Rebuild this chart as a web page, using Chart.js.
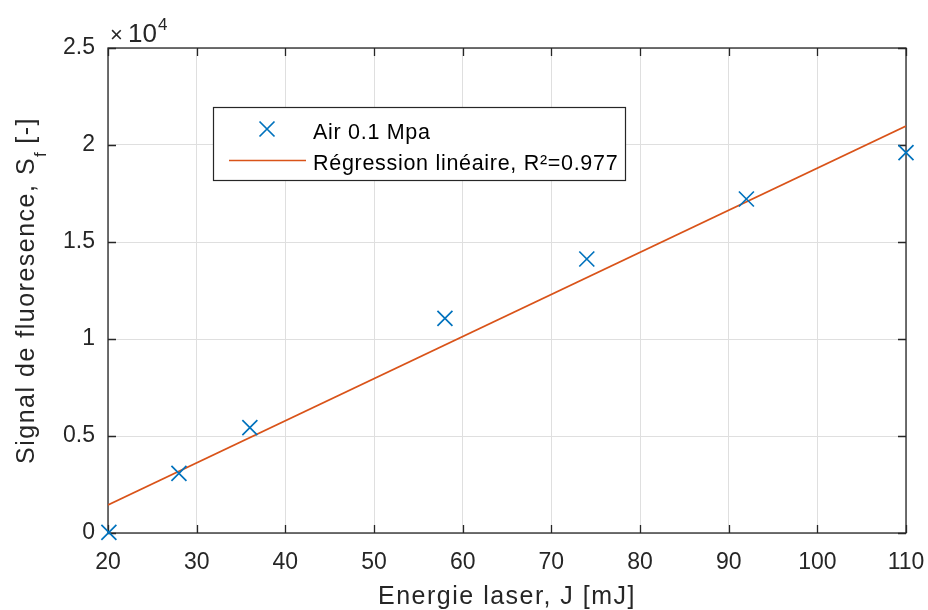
<!DOCTYPE html>
<html>
<head>
<meta charset="utf-8">
<script src="https://cdn.jsdelivr.net/npm/chart.js@4.4.1/dist/chart.umd.min.js"></script>
<style>
  html, body { margin: 0; padding: 0; background: #ffffff; }
  #wrap { width: 928px; height: 610px; position: relative; }
</style>
</head>
<body>
<div id="wrap"><canvas id="c" width="928" height="610"></canvas></div>
<script>
// ---- data ----
const energyX = [20.1, 28.0, 36.0, 58.0, 74.0, 92.0, 110.0];
const signalY = [30, 3077, 5428, 11067, 14124, 17216, 19603];
const regX = [20, 110];
const regY = [1443, 20979];
const xTicks = [20, 30, 40, 50, 60, 70, 80, 90, 100, 110];
const yTicks = [0, 5000, 10000, 15000, 20000, 25000];
const seriesNames = ['Air 0.1 Mpa', 'Régression linéaire, R²=0.977'];
const xTitle = 'Energie laser, J [mJ]';
const yTitleMain = 'Signal de fluoresence, S';
const yTitleSub = 'f';
const yTitleEnd = ' [-]';

const FONT = '"Liberation Sans", Arial, Helvetica, sans-serif';
const AXIS = '#262626';
const BLUE = '#0072BD';
const ORANGE = '#D95319';

const boxPlugin = {
  id: 'matlabBox',
  beforeDatasetsDraw(chart) {
    const {ctx, chartArea: a, scales} = chart;
    ctx.save();
    ctx.strokeStyle = AXIS;
    ctx.lineWidth = 1.3;
    ctx.strokeRect(a.left, a.top, a.right - a.left, a.bottom - a.top);
    const tl = 8;
    ctx.beginPath();
    xTicks.forEach(v => {
      const px = Math.round(scales.x.getPixelForValue(v)) + 0.5;
      ctx.moveTo(px, a.bottom); ctx.lineTo(px, a.bottom - tl);
      ctx.moveTo(px, a.top); ctx.lineTo(px, a.top + tl);
    });
    yTicks.forEach(v => {
      const py = Math.round(scales.y.getPixelForValue(v)) + 0.5;
      ctx.moveTo(a.left, py); ctx.lineTo(a.left + tl, py);
      ctx.moveTo(a.right, py); ctx.lineTo(a.right - tl, py);
    });
    ctx.stroke();
    ctx.restore();
  },
  afterDraw(chart) {
    const {ctx, chartArea: a} = chart;
    ctx.save();
    ctx.fillStyle = AXIS;
    ctx.textBaseline = 'alphabetic';
    // exponent label
    ctx.font = '22px ' + FONT;
    ctx.textAlign = 'left';
    ctx.fillText('\u00D7', a.left + 2, 42);
    ctx.font = '26px ' + FONT;
    ctx.fillText('10', a.left + 20, 42);
    ctx.font = '17px ' + FONT;
    ctx.fillText('4', a.left + 50, 30);

    // x title
    ctx.font = '25px ' + FONT;
    ctx.letterSpacing = '1.5px';
    ctx.textAlign = 'center';
    ctx.fillText(xTitle, (a.left + a.right) / 2, 604);

    // y title (rotated, with subscript)
    ctx.save();
    ctx.translate(33.5, (a.top + a.bottom) / 2);
    ctx.rotate(-Math.PI / 2);
    ctx.textAlign = 'left';
    ctx.font = '25px ' + FONT;
    ctx.letterSpacing = '1.5px';
    const w1 = ctx.measureText(yTitleMain).width;
    const w3 = ctx.measureText(yTitleEnd).width;
    ctx.font = '17px ' + FONT;
    ctx.letterSpacing = '0px';
    const w2 = ctx.measureText(yTitleSub).width;
    const total = w1 + w2 + w3;
    let x0 = -total / 2;
    ctx.font = '25px ' + FONT;
    ctx.letterSpacing = '1.5px';
    ctx.fillText(yTitleMain, x0, 0);
    ctx.font = '17px ' + FONT;
    ctx.letterSpacing = '0px';
    ctx.fillText(yTitleSub, x0 + w1, 12);
    ctx.font = '25px ' + FONT;
    ctx.letterSpacing = '1.5px';
    ctx.fillText(yTitleEnd, x0 + w1 + w2, 0);
    ctx.restore();

    // legend box
    const lx = 213.5, ly = 107.5, lw = 412, lh = 73;
    ctx.fillStyle = '#ffffff';
    ctx.fillRect(lx, ly, lw, lh);
    ctx.strokeStyle = AXIS;
    ctx.lineWidth = 1.2;
    ctx.strokeRect(lx, ly, lw, lh);
    // marker
    ctx.strokeStyle = BLUE;
    ctx.lineWidth = 1.7;
    const mx = 267, my = 129, r = 7.5;
    ctx.beginPath();
    ctx.moveTo(mx - r, my - r); ctx.lineTo(mx + r, my + r);
    ctx.moveTo(mx - r, my + r); ctx.lineTo(mx + r, my - r);
    ctx.stroke();
    // line
    ctx.strokeStyle = ORANGE;
    ctx.lineWidth = 1.6;
    ctx.beginPath();
    ctx.moveTo(229, 160.5); ctx.lineTo(306, 160.5);
    ctx.stroke();
    ctx.fillStyle = '#000000';
    ctx.font = '21.5px ' + FONT;
    ctx.letterSpacing = '0.7px';
    ctx.textAlign = 'left';
    ctx.fillText(seriesNames[0], 313, 139);
    ctx.fillText(seriesNames[1], 313, 170);
    ctx.restore();
  }
};

new Chart(document.getElementById('c'), {
  type: 'scatter',
  data: {
    datasets: [
      {
        label: seriesNames[0],
        data: energyX.map((x, i) => ({x: x, y: signalY[i]})),
        showLine: false,
        pointStyle: 'crossRot',
        pointRadius: 10.6,
        pointBorderColor: BLUE,
        pointBackgroundColor: BLUE,
        pointBorderWidth: 1.7,
        borderColor: BLUE,
        clip: false,
        order: 1
      },
      {
        label: seriesNames[1],
        data: regX.map((x, i) => ({x: x, y: regY[i]})),
        showLine: true,
        pointRadius: 0,
        borderColor: ORANGE,
        borderWidth: 1.6,
        fill: false,
        order: 2
      }
    ]
  },
  options: {
    responsive: false,
    animation: false,
    devicePixelRatio: 1,
    layout: { padding: { top: 48, right: 22, left: 0, bottom: 0 } },
    plugins: { legend: { display: false }, tooltip: { enabled: false }, title: { display: false } },
    scales: {
      x: {
        type: 'linear',
        min: 20, max: 110,
        afterFit(s) { s.height = 77; s.paddingLeft = 0; s.paddingRight = 0; },
        afterBuildTicks(s) { s.ticks = xTicks.map(v => ({value: v})); },
        ticks: { color: AXIS, font: { family: FONT, size: 23 }, padding: 16, maxRotation: 0, autoSkip: false },
        grid: { color: '#dfdfdf', lineWidth: 1, drawTicks: false },
        border: { display: false }
      },
      y: {
        type: 'linear',
        min: 0, max: 25000,
        afterFit(s) { s.width = 108; s.paddingTop = 0; s.paddingBottom = 0; },
        afterBuildTicks(s) { s.ticks = yTicks.map(v => ({value: v})); },
        ticks: { color: AXIS, font: { family: FONT, size: 23 }, padding: 13,
                 callback: v => String(v / 10000) },
        grid: { color: '#dfdfdf', lineWidth: 1, drawTicks: false },
        border: { display: false }
      }
    }
  },
  plugins: [boxPlugin]
});
</script>
</body>
</html>
